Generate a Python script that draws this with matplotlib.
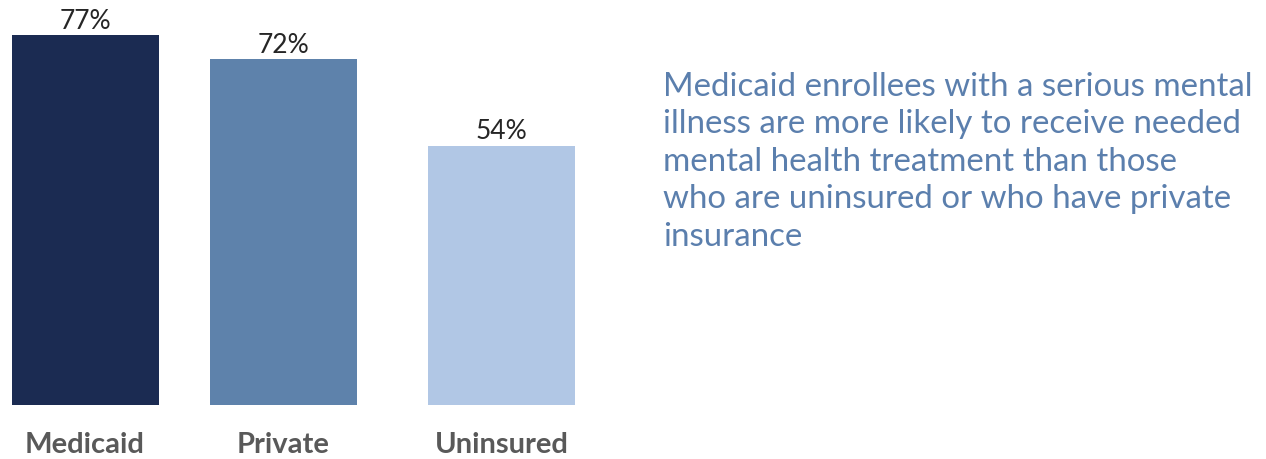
import matplotlib.pyplot as plt

# data
categories = ['Medicaid', 'Private', 'Uninsured']
values = [77, 72, 54]
value_labels = ['77%', '72%', '54%']
colors = ['#1b2b52', '#5e82ab', '#b1c7e5']
note = ('Medicaid enrollees with a serious mental\n'
        'illness are more likely to receive needed\n'
        'mental health treatment than those\n'
        'who are uninsured or who have private\n'
        'insurance')

W, H = 1266, 459
fig = plt.figure(figsize=(W / 100, H / 100), dpi=100)

# bar area in pixel units
ax = fig.add_axes([0, 54 / H, 600 / W, 405 / H])
xpos = [85, 283.5, 501.5]
ax.bar(xpos, values, width=147, color=colors)
ax.set_xlim(0, 600)
ax.set_ylim(0, 405 / 4.805)
ax.axis('off')

for x, v, lab in zip(xpos, values, value_labels):
    ax.annotate(lab, (x, v), xytext=(0, 1), textcoords='offset points',
                ha='center', va='bottom', fontsize=19, color='#262626',
                family='Lato')

for x, c in zip(xpos, categories):
    fig.text(x / W, 1 - 445 / H, c, ha='center', va='center', fontsize=21,
             fontweight='bold', color='#595959', family='Lato')

fig.text(663 / W, 1 - 72 / H, note, ha='left', va='top', fontsize=23.8,
         color='#5b7fad', family='Lato', linespacing=1.31)

fig.savefig('out.png', dpi=100)
